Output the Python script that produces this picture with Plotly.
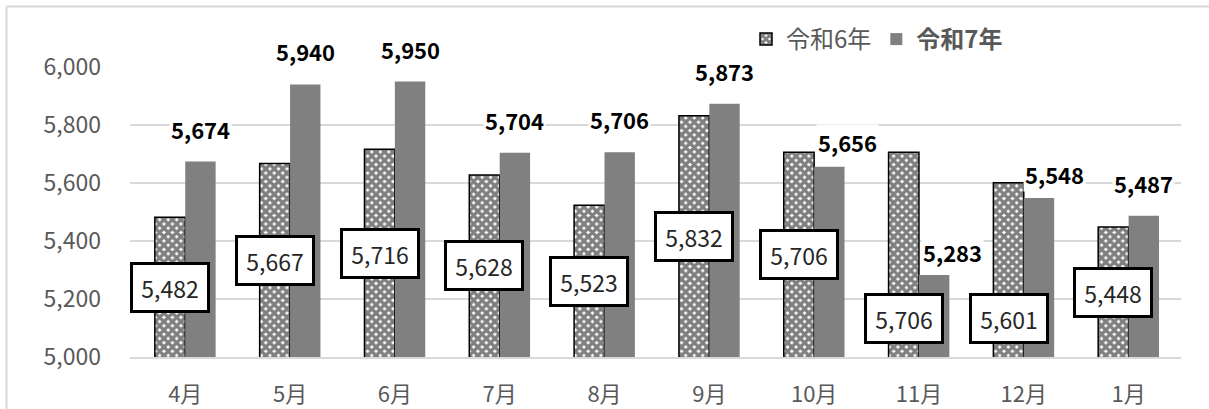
import plotly.graph_objects as go

# Monthly counts, fiscal-year order (April -> January)
months = ["4月", "5月", "6月", "7月", "8月", "9月", "10月", "11月", "12月", "1月"]
r6_values = [5482, 5667, 5716, 5628, 5523, 5832, 5706, 5706, 5601, 5448]
r7_values = [5674, 5940, 5950, 5704, 5706, 5873, 5656, 5283, 5548, 5487]
y_ticks = [5000, 5200, 5400, 5600, 5800, 6000]

# Layout geometry (pixels)
W, H = 1209, 409
M_L, M_R, M_T, M_B = 130, 28, 67, 52
BARGAP = 0.42
Y_MIN, Y_MAX = 5000, 6000

plot_w = W - M_L - M_R
plot_h = H - M_T - M_B
cat_px = plot_w / len(months)
bar_px = cat_px * (1 - BARGAP) / 2

FONT = "Noto Sans CJK JP"
GRID = "#d9d9d9"
TICK_COLOR = "#595959"

# Hand-placed label nudges (pixels) where labels would collide
r6_label_dy = {"11月": -64, "12月": -49}
r7_label_nudge = {"10月": (18, -8), "11月": (18, -10), "12月": (15, -9)}
R7_LABEL_GAP = 33

fig = go.Figure()
fig.add_trace(go.Bar(
    x=months, y=r6_values, name="令和6年",
    marker=dict(
        color="white",
        line=dict(color="black", width=1.5),
        pattern=dict(shape="x", fgcolor="black", bgcolor="white", size=6, solidity=0.8),
    ),
))
fig.add_trace(go.Bar(
    x=months, y=r7_values, name="<b>令和7年</b>",
    marker=dict(color="#808080", line=dict(width=0)),
))

annotations = []
for m, v in zip(months, r6_values):
    mid = (Y_MIN + v) / 2
    annotations.append(dict(
        x=m, y=mid, xref="x", yref="y", showarrow=False,
        xshift=-bar_px / 2, yshift=r6_label_dy.get(m, 0),
        text=f"{v:,}", font=dict(family=FONT, size=23, color="#262626"),
        bgcolor="white", bordercolor="black", borderwidth=3, borderpad=2,
        width=70, height=41,
    ))
for m, v in zip(months, r7_values):
    dx, dy = r7_label_nudge.get(m, (0, 0))
    annotations.append(dict(
        x=m, y=v, xref="x", yref="y", showarrow=False,
        xshift=bar_px / 2 + dx, yshift=R7_LABEL_GAP + dy,
        text=f"<b>{v:,}</b>", font=dict(family=FONT, size=22, color="black"),
        bgcolor="white", borderpad=1,
    ))

# Outer chart frame (left and top edges)
frame_x = (6.5 - M_L) / plot_w
frame_y = 1 + (M_T - 6.5) / plot_h
shapes = [
    dict(type="line", xref="paper", yref="paper", x0=frame_x, x1=frame_x,
         y0=frame_y, y1=-1, line=dict(color=GRID, width=2)),
    dict(type="line", xref="paper", yref="paper", x0=frame_x, x1=2,
         y0=frame_y, y1=frame_y, line=dict(color=GRID, width=2)),
]

fig.update_layout(
    width=W, height=H,
    margin=dict(l=M_L, r=M_R, t=M_T, b=M_B, pad=0, autoexpand=False),
    paper_bgcolor="white", plot_bgcolor="white",
    barmode="group", bargap=BARGAP, bargroupgap=0,
    font=dict(family=FONT, color=TICK_COLOR),
    showlegend=True,
    legend=dict(
        orientation="h", x=(746 - M_L) / plot_w, xanchor="left",
        y=1 + (M_T - 17) / plot_h, yanchor="top",
        font=dict(family=FONT, size=24, color=TICK_COLOR),
        bgcolor="rgba(0,0,0,0)", itemwidth=30, itemclick=False,
        traceorder="normal", tracegroupgap=0,
    ),
    annotations=annotations,
    shapes=shapes,
)
fig.update_xaxes(
    type="category", showgrid=False, showline=True, linecolor=GRID, linewidth=1.5,
    ticks="", ticklabelstandoff=17, automargin=False,
    tickfont=dict(family=FONT, size=22, color=TICK_COLOR),
)
fig.update_yaxes(
    range=[Y_MIN, Y_MAX], tickvals=y_ticks, tickformat=",",
    showgrid=True, gridcolor=GRID, gridwidth=1.5, zeroline=False, showline=False,
    ticks="", ticklabelstandoff=28, automargin=False,
    tickfont=dict(family=FONT, size=23, color=TICK_COLOR),
)

fig.write_html("out.html")
